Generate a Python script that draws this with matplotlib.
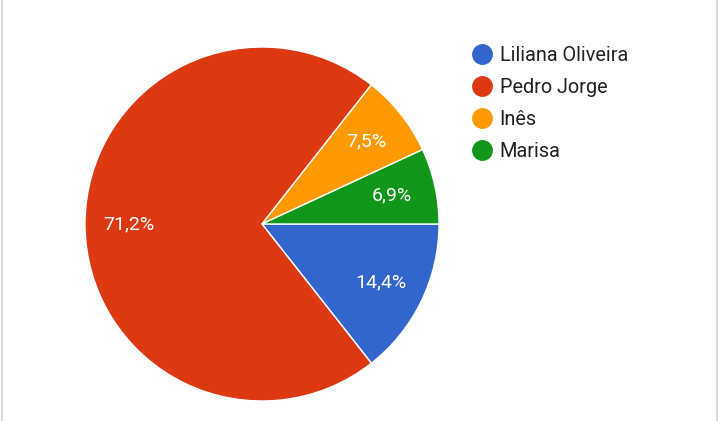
import matplotlib.pyplot as plt
from matplotlib.lines import Line2D
import numpy as np

names = ['Liliana Oliveira', 'Pedro Jorge', 'Inês', 'Marisa']
shares = [14.4, 71.2, 7.5, 6.9]
colors = ['#3366cc', '#dc3912', '#ff9900', '#109618']

plt.rcParams['font.family'] = ['Roboto', 'DejaVu Sans']

W, H = 719, 421
fig = plt.figure(figsize=(W / 100, H / 100), dpi=100)
fig.patch.set_facecolor('white')

# pie centre (262,224), radius 177 px
cx, cy, r = 262, 224, 177
ax = fig.add_axes([(cx - r) / W, (H - cy - r) / H, 2 * r / W, 2 * r / H])
wedges, texts, autotexts = ax.pie(
    shares, colors=colors, startangle=0, counterclock=False,
    autopct=lambda p: f'{p:.1f}%'.replace('.', ','), pctdistance=0.75,
    wedgeprops=dict(edgecolor='white', linewidth=1),
    textprops=dict(color='white', fontsize=14))
ax.set_xlim(-1, 1)
ax.set_ylim(-1, 1)
ax.set_aspect('equal')

handles = [Line2D([], [], marker='o', linestyle='', markersize=14,
                  markerfacecolor=c, markeredgecolor=c) for c in colors]
fig.legend(handles, names, loc='upper left', bbox_to_anchor=(464 / W, 1 - 38 / H),
           frameon=False, fontsize=14.3, handletextpad=0.4, labelspacing=0.65,
           handlelength=1.0, borderaxespad=0, labelcolor='#222222')

# thin grey borders at the left and right edges
fig.add_artist(Line2D([1.5 / W, 1.5 / W], [0, 1], color='#d9d9d9', lw=1.5))
fig.add_artist(Line2D([717 / W, 717 / W], [0, 1], color='#d9d9d9', lw=1.5))

fig.savefig('out.png', dpi=100)
